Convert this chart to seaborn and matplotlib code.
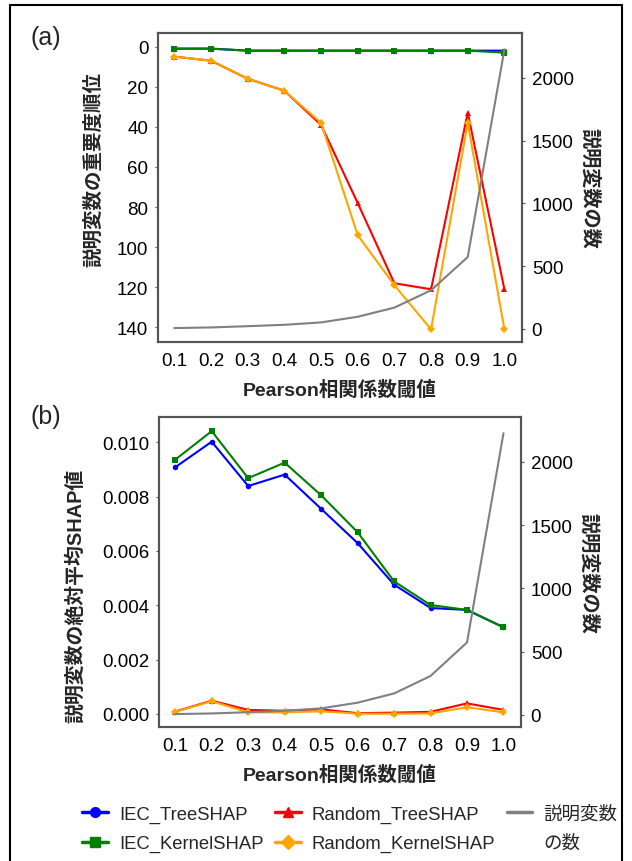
import matplotlib
matplotlib.use("Agg")
import matplotlib.pyplot as plt
import matplotlib.patches as patches
from matplotlib.lines import Line2D
from matplotlib.ticker import FormatStrFormatter
import seaborn as sns

# data
thresholds = [0.1, 0.2, 0.3, 0.4, 0.5, 0.6, 0.7, 0.8, 0.9, 1.0]
n_features = [7, 12, 22, 33, 52, 97, 170, 308, 573, 2225]

rank_iec_tree = [1, 1, 2, 2, 2, 2, 2, 2, 2, 2]
rank_iec_kernel = [1, 1, 2, 2, 2, 2, 2, 2, 2, 3]
rank_rand_tree = [5, 7, 16, 22, 39, 78, 118, 121, 33, 121]
rank_rand_kernel = [5, 7, 16, 22, 38, 94, 119, 141, 38, 141]

shap_iec_tree = [0.00908, 0.01002, 0.00839, 0.00881, 0.00755, 0.00629,
                 0.00476, 0.00390, 0.00383, 0.00319]
shap_iec_kernel = [0.00936, 0.01041, 0.00868, 0.00925, 0.00805, 0.00669,
                   0.00488, 0.00401, 0.00383, 0.00319]
shap_rand_tree = [0.00009, 0.00049, 0.00015, 0.00012, 0.00017, 0.00003,
                  0.00005, 0.00008, 0.00039, 0.00015]
shap_rand_kernel = [0.00008, 0.00047, 0.00006, 0.00006, 0.00010, 0.00001,
                    0.00001, 0.00002, 0.00025, 0.00006]

series_labels = ["IEC_TreeSHAP", "IEC_KernelSHAP", "Random_TreeSHAP", "Random_KernelSHAP"]
series_colors = ["blue", "green", "red", "orange"]
series_markers = ["o", "s", "^", "D"]

sns.set_style("white")
fam = ["Liberation Sans", "Noto Sans CJK JP", "DejaVu Sans"]
plt.rcParams["font.family"] = fam
plt.rcParams["axes.unicode_minus"] = False

fig = plt.figure(figsize=(6.32, 8.62), dpi=100)
W, H = 632, 862


def place(l, t, r, b):
    return [l / W, 1 - b / H, (r - l) / W, (b - t) / H]


def style(ax):
    for s in ax.spines.values():
        s.set_color("#555555")
        s.set_linewidth(1.5)
    ax.tick_params(length=2, width=0.8, color="#555555", labelsize=13.5,
                   labelcolor="black", pad=5)


def draw_panel(ax, ys, counts_lim):
    for y, lab, c, m in zip(ys, series_labels, series_colors, series_markers):
        sns.lineplot(x=thresholds, y=y, ax=ax, color=c, marker=m,
                     markersize=4, markeredgewidth=0, linewidth=1.5,
                     label=lab, legend=False)
    ax.set_xlim(0.0555, 1.048)
    ax.set_xticks(thresholds)
    ax.xaxis.set_major_formatter(FormatStrFormatter("%.1f"))
    ax.set_xlabel("Pearson相関係数閾値", fontsize=14, fontweight="bold", labelpad=8)
    ax2 = ax.twinx()
    sns.lineplot(x=thresholds, y=n_features, ax=ax2, color="gray",
                 linewidth=1.5, legend=False)
    ax2.set_ylim(*counts_lim)
    ax2.set_yticks([0, 500, 1000, 1500, 2000])
    ax2.set_ylabel("説明変数の数", fontsize=14.5, fontweight="bold",
                   rotation=270, labelpad=18)
    style(ax)
    style(ax2)
    return ax2


# panel (a): importance rank
ax_a = fig.add_axes(place(158, 34, 522, 343))
draw_panel(ax_a, [rank_iec_tree, rank_iec_kernel, rank_rand_tree, rank_rand_kernel],
           (-104, 2358))
ax_a.set_ylim(147.3, -6.8)
ax_a.set_yticks([0, 20, 40, 60, 80, 100, 120, 140])
ax_a.set_ylabel("説明変数の重要度順位", fontsize=14, fontweight="bold")
ax_a.yaxis.set_label_coords(-0.151, 0.563)

# panel (b): mean |SHAP|
ax_b = fig.add_axes(place(159, 418, 521, 728))
draw_panel(ax_b, [shap_iec_tree, shap_iec_kernel, shap_rand_tree, shap_rand_kernel],
           (-95, 2353))
ax_b.set_ylim(-0.000479, 0.01093)
ax_b.set_yticks([0.0, 0.002, 0.004, 0.006, 0.008, 0.010])
ax_b.yaxis.set_major_formatter(FormatStrFormatter("%.3f"))
ax_b.set_ylabel("説明変数の絶対平均SHAP値", fontsize=14.3, fontweight="bold")
ax_b.yaxis.set_label_coords(-0.204, 0.426)

fig.text(30 / W, 1 - 38 / H, "(a)", fontsize=18, va="center", ha="left")
fig.text(30 / W, 1 - 417 / H, "(b)", fontsize=18, va="center", ha="left")

# legend
handles = [Line2D([], [], color=c, marker=m, markersize=7, linewidth=2.5)
           for c, m in zip(series_colors, series_markers)]
handles.append(Line2D([], [], color="gray", linewidth=2.5))
handles.append(Line2D([], [], color="none"))
labels = series_labels + ["説明変数", "の数"]
fig.legend(handles, labels,
           ncol=3, loc="center", bbox_to_anchor=(350 / W, 1 - 830 / H),
           frameon=False, fontsize=13.3, handlelength=1.4, handletextpad=0.6,
           columnspacing=0.6, labelspacing=0.65)

fig.patches.append(patches.Rectangle((10 / W, -0.02), 612 / W, 1 - 6 / H + 0.02,
                                     transform=fig.transFigure, fill=False,
                                     edgecolor="black", linewidth=1.5))

fig.savefig("out.png", dpi=100)
